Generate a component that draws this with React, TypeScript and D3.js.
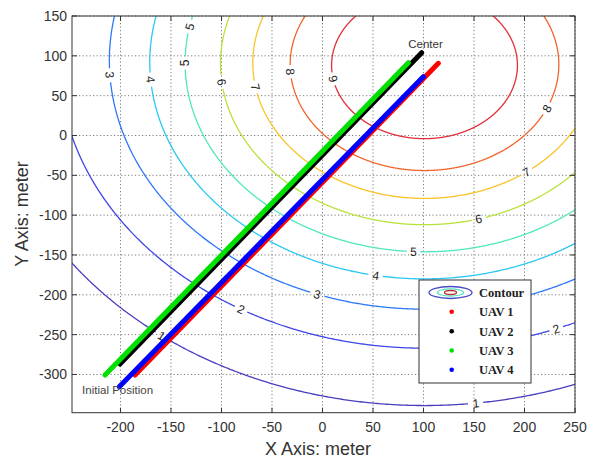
import React from "react";
import * as d3 from "d3";

// ---- data ----
const xTicks = [-200, -150, -100, -50, 0, 50, 100, 150, 200, 250];
const yTicks = [-300, -250, -200, -150, -100, -50, 0, 50, 100, 150];
const xDomain = [-248, 250];
const yDomain = [-348, 150];

const contourLevels = [1, 2, 3, 4, 5, 6, 7, 8, 9];
const contourCenterX = [101, 101, 101, 101, 101, 101, 101, 101, 101];
const contourCenterY = [91, 95, 94, 92, 91, 90, 91, 89, 88];
const contourRadius = [430, 362, 312, 272, 237, 202, 170, 133, 92];
const contourColors = [
  "#4a3fbf",
  "#3f45e6",
  "#2f78fa",
  "#2cc8f2",
  "#4fe8be",
  "#b8e23c",
  "#f8c428",
  "#f1652c",
  "#e2303a",
];

const labelLevels = [3, 4, 5, 5, 6, 7, 8, 9, 8, 7, 6, 5, 4, 3, 2, 2, 1, 1];
const labelX = [-215, -176, -128, -133, -109, -70, -34, 4.5, 222, 202, -155 + 310, 90, 52, -7, -84, 233, -159, 152];
const labelY = [76, 70, 136, 91, 66, 60, 80, 70, 34, -46, -106, -147, -181, -204, -224, -247, -251, -337];

const uavNames = ["UAV 1", "UAV 2", "UAV 3", "UAV 4"];
const uavColors = ["#ff0000", "#000000", "#00e000", "#0000ff"];
const uav1X = [-185.6, 114.7];
const uav1Y = [-300.7, 90.6];
const uav2X = [-200.5, 98.2];
const uav2Y = [-286.9, 103.9];
const uav3X = [-215.3, 85];
const uav3Y = [-300.7, 91.4];
const uav4X = [-201.2, 99.8];
const uav4Y = [-315.4, 73.8];

const initialLabel = "Initial Position";
const initialLabelPos = [-238, -325];
const centerLabel = "Center";
const centerLabelPos = [102, 110];

// ---- layout ----
const W = 595;
const H = 458;
const L = 72;
const R = 575;
const T = 16;
const B = 412.7;

export default function App() {
  const x = d3.scaleLinear().domain(xDomain).range([L, R]);
  const y = d3.scaleLinear().domain(yDomain).range([B, T]);
  const kx = (R - L) / (xDomain[1] - xDomain[0]);
  const ky = (B - T) / (yDomain[1] - yDomain[0]);

  const wrap = (a: number) => {
    let d = (a + Math.PI) % (2 * Math.PI);
    if (d < 0) d += 2 * Math.PI;
    return d - Math.PI;
  };

  // labels snapped onto their contour
  const labels = labelLevels.map((lv, k) => {
    const i = contourLevels.indexOf(lv);
    const cx = contourCenterX[i];
    const cy = contourCenterY[i];
    const r = contourRadius[i];
    const th = Math.atan2(labelY[k] - cy, labelX[k] - cx);
    const px = x(cx + r * Math.cos(th));
    const py = y(cy + r * Math.sin(th));
    const dx = -r * Math.sin(th) * kx;
    const dy = -r * Math.cos(th) * ky;
    let ang = (Math.atan2(dy, dx) * 180) / Math.PI;
    if (ang > 90) ang -= 180;
    if (ang <= -90) ang += 180;
    const speed = r * Math.sqrt((kx * Math.sin(th)) ** 2 + (ky * Math.cos(th)) ** 2);
    const gap = 6.5 / speed;
    return { lv, i, th, px, py, ang, gap };
  });

  const N = 1440;
  const contourPaths = contourLevels.map((lv, i) => {
    const cx = contourCenterX[i];
    const cy = contourCenterY[i];
    const r = contourRadius[i];
    const gaps = labels.filter((l) => l.i === i);
    const pts = d3.range(N + 1).map((j) => (2 * Math.PI * j) / N);
    const line = d3
      .line<number>()
      .defined((t) => !gaps.some((g) => Math.abs(wrap(t - g.th)) < g.gap))
      .x((t) => x(cx + r * Math.cos(t)))
      .y((t) => y(cy + r * Math.sin(t)));
    return { d: line(pts) || "", color: contourColors[i] };
  });

  const uavX = [uav1X, uav2X, uav3X, uav4X];
  const uavY = [uav1Y, uav2Y, uav3Y, uav4Y];
  const uavLine = d3
    .line<[number, number]>()
    .x((d) => x(d[0]))
    .y((d) => y(d[1]));

  const tickColor = "#333";
  const gridColor = "#7a7a7a";

  const legX = 419;
  const legY = 280;
  const legW = 112;
  const legH = 103;
  const rowY = [311.7, 331.2, 350.5, 369.7];

  return (
    <svg
      width={W}
      height={H}
      style={{ position: "absolute", left: 0, top: 0, background: "#fff" }}
      fontFamily="'Liberation Sans', Arial, sans-serif"
    >
      <defs>
        <clipPath id="plotClip">
          <rect x={L} y={T} width={R - L} height={B - T} />
        </clipPath>
      </defs>
      <rect x={0} y={0} width={W} height={H} fill="#fff" />

      {/* grid */}
      <g stroke={gridColor} strokeWidth={1} strokeDasharray="1.2,2.3">
        {xTicks.map((t) => (
          <line key={"gx" + t} x1={x(t)} x2={x(t)} y1={T} y2={B} />
        ))}
        {yTicks.map((t) => (
          <line key={"gy" + t} x1={L} x2={R} y1={y(t)} y2={y(t)} />
        ))}
      </g>

      {/* contours */}
      <g clipPath="url(#plotClip)" fill="none" strokeWidth={1.3}>
        {contourPaths.map((c, i) => (
          <path key={"c" + i} d={c.d} stroke={c.color} />
        ))}
      </g>
      <g clipPath="url(#plotClip)" fontSize={12} fill="#222" textAnchor="middle">
        {labels.map((l, k) => (
          <text
            key={"l" + k}
            transform={`translate(${l.px},${l.py}) rotate(${l.ang})`}
            dy="0.36em"
          >
            {String(l.lv)}
          </text>
        ))}
      </g>

      {/* trajectories */}
      <g fill="none" strokeWidth={5} strokeLinecap="round">
        {uavX.map((xs, k) => (
          <path
            key={"u" + k}
            d={uavLine(xs.map((v, j) => [v, uavY[k][j]] as [number, number])) || ""}
            stroke={uavColors[k]}
          />
        ))}
      </g>

      {/* annotations */}
      <text x={x(centerLabelPos[0])} y={y(centerLabelPos[1])} fontSize={11.5} fill="#333" textAnchor="middle">
        {centerLabel}
      </text>
      <text x={x(initialLabelPos[0])} y={y(initialLabelPos[1])} fontSize={11.5} fill="#444">
        {initialLabel}
      </text>

      {/* legend */}
      <rect x={legX} y={legY} width={legW} height={legH} fill="#fff" stroke="#333" strokeWidth={1} />
      <ellipse cx={450.5} cy={292.5} rx={21.5} ry={6} fill="none" stroke="#4848c8" strokeWidth={1.3} />
      <ellipse cx={450.5} cy={292.5} rx={13} ry={3.6} fill="none" stroke="#50e0c0" strokeWidth={1.2} />
      <ellipse cx={450.5} cy={292.5} rx={6} ry={2} fill="none" stroke="#b83030" strokeWidth={1.3} />
      <g fontFamily="'Liberation Serif', 'Times New Roman', serif" fontWeight="bold" fontSize={12.5} fill="#222">
        <text x={479} y={296.5}>Contour</text>
        {uavNames.map((n, k) => (
          <g key={"lg" + k}>
            <circle cx={451.7} cy={rowY[k]} r={2.3} fill={uavColors[k]} />
            <text x={479} y={rowY[k] + 4.3}>{n}</text>
          </g>
        ))}
      </g>

      {/* axes box and ticks */}
      <rect x={L} y={T} width={R - L} height={B - T} fill="none" stroke="#333" strokeWidth={1} />
      <g stroke={tickColor} strokeWidth={1}>
        {xTicks.map((t) => (
          <g key={"tx" + t}>
            <line x1={x(t)} x2={x(t)} y1={B} y2={B - 5} />
            <line x1={x(t)} x2={x(t)} y1={T} y2={T + 5} />
          </g>
        ))}
        {yTicks.map((t) => (
          <g key={"ty" + t}>
            <line x1={L} x2={L + 5} y1={y(t)} y2={y(t)} />
            <line x1={R} x2={R - 5} y1={y(t)} y2={y(t)} />
          </g>
        ))}
      </g>
      <g fontSize={14} fill="#333">
        {xTicks.map((t) => (
          <text key={"xl" + t} x={x(t)} y={432} textAnchor="middle">
            {String(t)}
          </text>
        ))}
        {yTicks.map((t) => (
          <text key={"yl" + t} x={67} y={y(t) + 5} textAnchor="end">
            {String(t)}
          </text>
        ))}
      </g>
      <text x={318} y={455} fontSize={18} fill="#333" textAnchor="middle">
        X Axis: meter
      </text>
      <text transform="translate(28,214) rotate(-90)" fontSize={18} fill="#333" textAnchor="middle">
        Y Axis: meter
      </text>
    </svg>
  );
}
